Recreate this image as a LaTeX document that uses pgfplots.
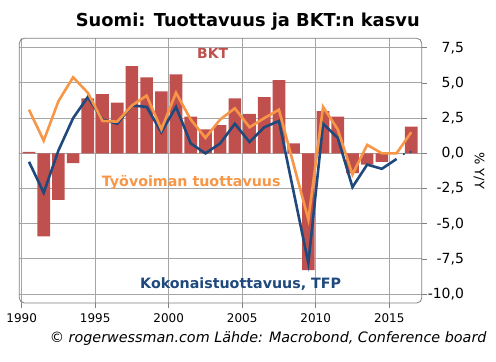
\documentclass[border=0pt]{standalone}
\usepackage{pgfplots}
\pgfplotsset{compat=1.18}
\usepackage{fontspec}
\setmainfont{DejaVu Sans}
\definecolor{bkt}{HTML}{C0504D}
\definecolor{tyo}{HTML}{F79646}
\definecolor{tfp}{HTML}{1F497D}
\definecolor{gridc}{HTML}{A6A6A6}
\definecolor{framec}{HTML}{808080}
\begin{document}
\begin{tikzpicture}[x=1bp,y=1bp]
\path[use as bounding box] (0,0) rectangle (496,361);
\begin{axis}[
  at={(19.3bp,58bp)}, anchor=south west,
  scale only axis, width=402.4bp, height=264.7bp,
  xmin=1989.84, xmax=2017.21, ymin=-10.63, ymax=8.17,
  axis line style={draw=none},
  tick align=outside, major tick length=5bp,
  tick style={framec, line width=0.8bp},
  xtick pos=bottom, ytick pos=right, yticklabel pos=right,
  xtick={1990,1995,2000,2005,2010,2015},
  xticklabels={1990,1995,2000,2005,2010,2015},
  ytick={-10,-7.5,-5,-2.5,0,2.5,5,7.5},
  yticklabels={{-10,0},{-7,5},{-5,0},{-2,5},{0,0},{2,5},{5,0},{7,5}},
  xticklabel style={font=\fontsize{12}{14}\selectfont, anchor=base, yshift=-14bp},
  yticklabel style={font=\fontsize{14}{16}\selectfont, anchor=west, text width=37bp, align=right, inner sep=0pt},
  grid=major, grid style={gridc, line width=0.9bp},
  clip=false,
]
\addplot[ybar, bar width=0.86, fill=bkt, draw=none] coordinates {
(1990.5,0.1) (1991.5,-5.9) (1992.5,-3.3) (1993.5,-0.7) (1994.5,3.9)
(1995.5,4.2) (1996.5,3.6) (1997.5,6.2) (1998.5,5.4) (1999.5,4.4)
(2000.5,5.6) (2001.5,2.6) (2002.5,1.7) (2003.5,2.0) (2004.5,3.9)
(2005.5,2.8) (2006.5,4.0) (2007.5,5.2) (2008.5,0.7) (2009.5,-8.3)
(2010.5,3.0) (2011.5,2.6) (2012.5,-1.4) (2013.5,-0.8) (2014.5,-0.6)
(2015.5,0.0) (2016.5,1.9)};
\addplot[tfp, line width=2.6bp, mark=none] coordinates {
(1990.5,-0.6) (1991.5,-2.8) (1992.5,0.2) (1993.5,2.5) (1994.5,4.0)
(1995.5,2.4) (1996.5,2.1) (1997.5,3.4) (1998.5,3.3) (1999.5,1.5)
(2000.5,3.3) (2001.5,0.7) (2002.5,0.0) (2003.5,0.7) (2004.5,2.1)
(2005.5,0.8) (2006.5,1.85) (2007.5,2.3) (2008.5,-2.75) (2009.5,-7.8)
(2010.5,2.1) (2011.5,1.1) (2012.5,-2.4) (2013.5,-0.8) (2014.5,-1.1)
(2015.5,-0.4)};
\addplot[tfp, only marks, mark=*, mark size=0.9bp] coordinates {(2016.0,-0.05) (2016.45,0.1)};
\addplot[tyo, line width=2.6bp, mark=none] coordinates {
(1990.5,3.1) (1991.5,0.9) (1992.5,3.7) (1993.5,5.4) (1994.5,4.3)
(1995.5,2.3) (1996.5,2.25) (1997.5,3.4) (1998.5,4.1) (1999.5,1.7)
(2000.5,4.3) (2001.5,2.4) (2002.5,1.1) (2003.5,2.4) (2004.5,3.2)
(2005.5,1.85) (2006.5,2.5) (2007.5,3.1) (2008.5,-0.8) (2009.5,-4.7)
(2010.5,3.3) (2011.5,1.7) (2012.5,-1.5) (2013.5,0.6) (2014.5,0.0)
(2015.5,0.0) (2016.5,1.5)};
\draw[framec, line width=0.8bp, rounded corners=5bp] (rel axis cs:0,0) rectangle (rel axis cs:1,1);
\end{axis}
\node[anchor=base, font=\bfseries\fontsize{17.9}{20}\selectfont, inner sep=0pt] at (247.8,334.3) {Suomi: Tuottavuus ja BKT:n kasvu};
\node[anchor=base, font=\bfseries\fontsize{14}{16}\selectfont, text=bkt, inner sep=0pt] at (212.7,302.7) {BKT};
\node[anchor=base west, font=\bfseries\fontsize{14.3}{16}\selectfont, text=tyo, inner sep=0pt] at (101.7,175) {Työvoiman tuottavuus};
\node[anchor=base west, font=\bfseries\fontsize{14.3}{16}\selectfont, text=tfp, inner sep=0pt] at (140,72.7) {Kokonaistuottavuus, TFP};
\node[rotate=-90, font=\fontsize{13}{15}\selectfont, inner sep=0pt] at (479,190.2) {\% Y/Y};
\node[anchor=base east, font=\itshape\fontsize{14.4}{16}\selectfont, inner sep=0pt] at (486.7,18.3) {© rogerwessman.com Lähde: Macrobond, Conference board};
\end{tikzpicture}
\end{document}
